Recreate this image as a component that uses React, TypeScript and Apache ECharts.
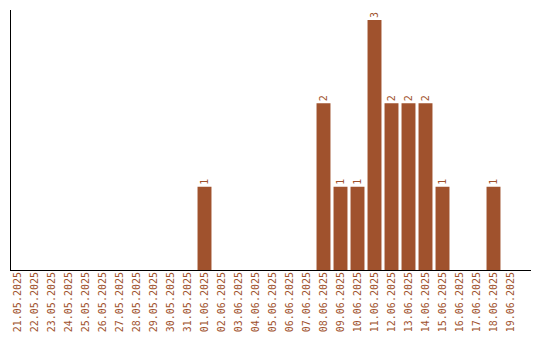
import React, { useEffect, useRef } from "react";
import * as echarts from "echarts";

const categories = [
  "21.05.2025", "22.05.2025", "23.05.2025", "24.05.2025", "25.05.2025",
  "26.05.2025", "27.05.2025", "28.05.2025", "29.05.2025", "30.05.2025",
  "31.05.2025", "01.06.2025", "02.06.2025", "03.06.2025", "04.06.2025",
  "05.06.2025", "06.06.2025", "07.06.2025", "08.06.2025", "09.06.2025",
  "10.06.2025", "11.06.2025", "12.06.2025", "13.06.2025", "14.06.2025",
  "15.06.2025", "16.06.2025", "17.06.2025", "18.06.2025", "19.06.2025",
];
const values = [
  0, 0, 0, 0, 0, 0, 0, 0, 0, 0,
  0, 1, 0, 0, 0, 0, 0, 0, 2, 1,
  1, 3, 2, 2, 2, 1, 0, 0, 1, 0,
];

const COLOR = "#a0522d";
const FONT = "DejaVu Sans Mono";

export default function App() {
  const ref = useRef<HTMLDivElement>(null);
  useEffect(() => {
    if (!ref.current) return;
    const chart = echarts.init(ref.current, null, { renderer: "svg" });
    chart.setOption({
      animation: false,
      grid: {
        left: 9,
        right: 21,
        top: 10,
        bottom: 70,
        containLabel: false,
        outerBoundsMode: "none",
      },
      xAxis: {
        type: "category",
        data: categories,
        axisLine: { show: false },
        axisTick: { show: false },
        axisLabel: {
          rotate: 90,
          interval: 0,
          margin: 2,
          color: COLOR,
          fontFamily: FONT,
          fontSize: 10,
          hideOverlap: false,
        },
      },
      yAxis: {
        type: "value",
        min: 0,
        max: 3.12,
        axisLine: { show: false },
        axisTick: { show: false },
        axisLabel: { show: false },
        splitLine: { show: false },
      },
      series: [
        {
          type: "bar",
          data: values,
          barCategoryGap: "18%",
          itemStyle: { color: COLOR },
          label: {
            show: true,
            position: "top",
            rotate: 90,
            align: "left",
            verticalAlign: "middle",
            distance: 2,
            color: COLOR,
            fontFamily: FONT,
            fontSize: 10,
            formatter: (p: any) => (p.value ? String(p.value) : ""),
          },
        },
      ],
      graphic: [
        {
          type: "line",
          shape: { x1: 10.5, y1: 10, x2: 10.5, y2: 270.5 },
          style: { stroke: "#000", lineWidth: 1 },
          silent: true,
        },
        {
          type: "line",
          shape: { x1: 10, y1: 270.5, x2: 531, y2: 270.5 },
          style: { stroke: "#000", lineWidth: 1 },
          silent: true,
        },
      ],
    });
    return () => chart.dispose();
  }, []);
  return <div ref={ref} style={{ width: 540, height: 340, margin: -8 }} />;
}
